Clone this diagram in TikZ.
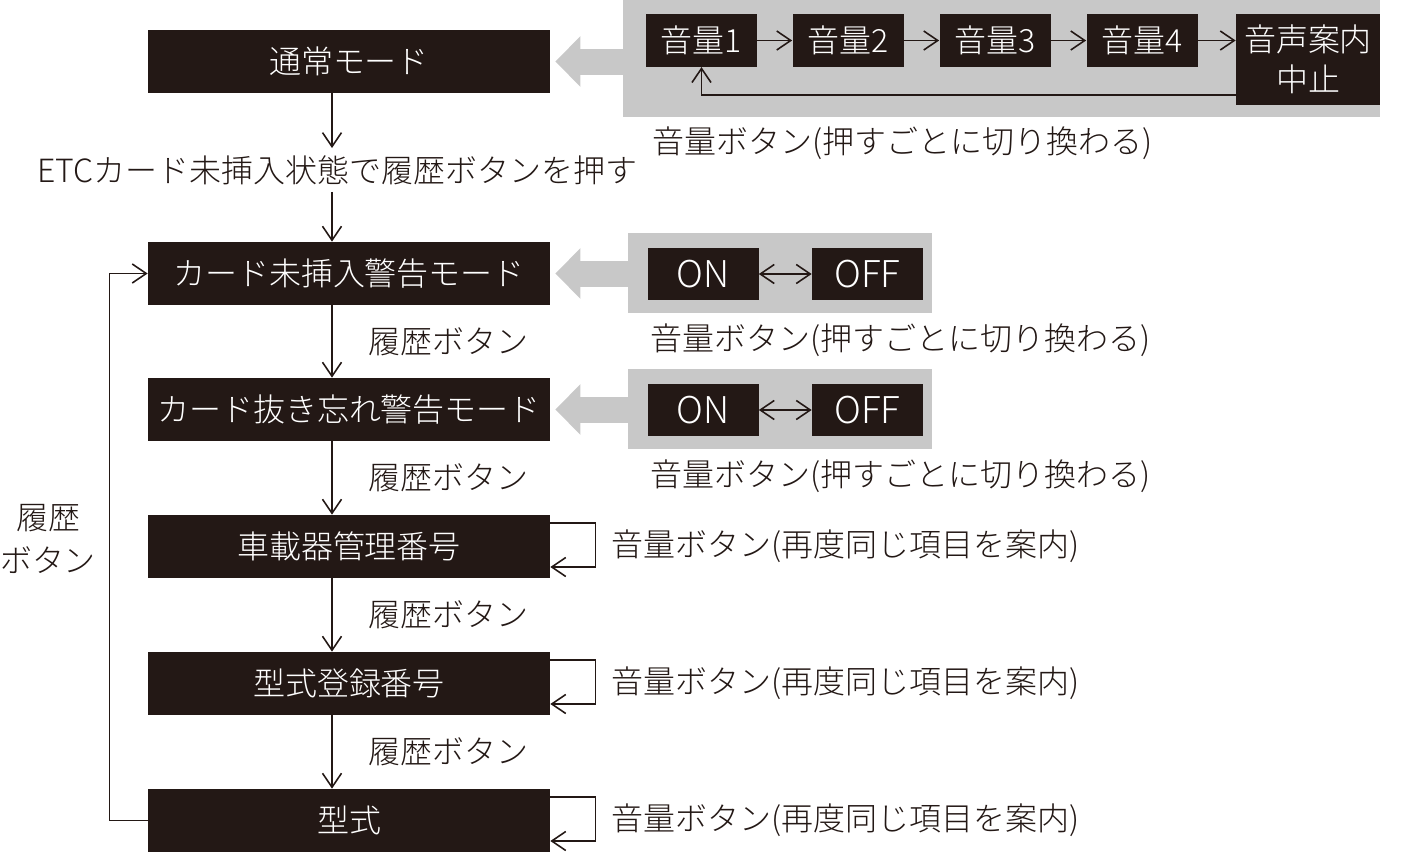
\documentclass[tikz,border=0pt]{standalone}
\usepackage{fontspec}
\setmainfont{Noto Sans CJK JP}[UprightFont=* Light]
\usetikzlibrary{arrows.meta,positioning}
\definecolor{inkblack}{HTML}{231815}
\definecolor{panelgray}{HTML}{C8C8C8}

\begin{document}
\begin{tikzpicture}[font=\fontsize{18.2}{23}\selectfont,
		modebox/.style={fill=inkblack,text=white,minimum width=8.04cm,minimum height=1.26cm,inner sep=0pt},
		smallbox/.style={fill=inkblack,text=white,minimum width=2.22cm,minimum height=1.05cm,inner sep=0pt},
		panel/.style={fill=panelgray,inner sep=0pt},
		note/.style={text=inkblack,inner sep=0pt},
		hist/.style={note,right=0.72cm},
		grayarrow/.style={panelgray,line width=0.52cm,-{Triangle[length=0.5cm,width=0.98cm]}}]
		\useasboundingbox (0,0) rectangle (28.02,-17.06);

		\begin{scope}[every node/.style={modebox}]
			\node (normal) at (6.98,-1.23) {通常モード};
			\node (nocard) at (6.98,-5.47) {カード未挿入警告モード};
			\node (forget) at (6.98,-8.19) {カード抜き忘れ警告モード};
			\node (serial) at (6.98,-10.93) {車載器管理番号};
			\node (regno) at (6.98,-13.67) {型式登録番号};
			\node (model) at (6.98,-16.41) {型式};
		\end{scope}

		\node[note,inner sep=4pt] (etc) at (6.74,-3.40) {ETCカード未挿入状態で履歴ボタンを押す};
		\node[note,align=center,font=\fontsize{18.2}{24}\selectfont] (histlbl) at (0.96,-10.78) {履歴\\ボタン};
		\coordinate (ax) at (6.64,0);

		% gray panels
		\node[panel,minimum width=15.14cm,minimum height=2.34cm] (volpanel) at (20.03,-1.17) {};
		\node[panel,minimum width=6.08cm,minimum height=1.60cm] (panelA) at (15.60,-5.46) {};
		\node[panel,minimum width=6.08cm,minimum height=1.60cm] (panelB) at (15.60,-8.18) {};

		\begin{scope}[every node/.style={smallbox}]
			\node (vol1) at (14.03,-0.81) {音量1};
			\node (vol2) at (16.96,-0.81) {音量2};
			\node (vol3) at (19.90,-0.81) {音量3};
			\node (vol4) at (22.84,-0.81) {音量4};
			\node[minimum width=2.88cm,minimum height=1.82cm,align=center] (stop) at (26.16,-1.19) {音声案内\\中止};

			\node[font=\fontsize{21}{25}\selectfont] (onA) at (14.06,-5.48) {ON};
			\node[font=\fontsize{21}{25}\selectfont] (offA) at (17.35,-5.48) {OFF};
			\node[font=\fontsize{21}{25}\selectfont] (onB) at (14.06,-8.20) {ON};
			\node[font=\fontsize{21}{25}\selectfont] (offB) at (17.35,-8.20) {OFF};
		\end{scope}

		\begin{scope}[every node/.style={note}]
			\node[anchor=west] (volnote) at (13.04,-2.86) {音量ボタン(押すごとに切り換わる)};
			\node[anchor=west] (notea) at (13.00,-6.80) {音量ボタン(押すごとに切り換わる)};
			\node[anchor=west] (noteb) at (13.00,-9.52) {音量ボタン(押すごとに切り換わる)};
			\node[right=1.22cm of serial] (repa) {音量ボタン(再度同じ項目を案内)};
			\node[right=1.22cm of regno] (repb) {音量ボタン(再度同じ項目を案内)};
			\node[right=1.22cm of model] (repc) {音量ボタン(再度同じ項目を案内)};
		\end{scope}

		\draw[grayarrow] (volpanel.west |- normal) -- ([xshift=0.1cm]normal.east);
		\draw[grayarrow] (panelA.west |- nocard) -- ([xshift=0.1cm]nocard.east);
		\draw[grayarrow] (panelB.west |- forget) -- ([xshift=0.1cm]forget.east);

		\begin{scope}[>={Straight Barb[length=0.28cm,width=0.38cm]},
					  every edge/.style={draw=inkblack,line width=0.9pt}]
			\path [->] (normal.south -| ax) edge (etc.north -| ax);
			\path [->] (etc.south -| ax) edge (nocard.north -| ax);
			\path [->] (nocard.south -| ax) edge node[hist] {履歴ボタン} (forget.north -| ax);
			\path [->] (forget.south -| ax) edge node[hist] {履歴ボタン} (serial.north -| ax);
			\path [->] (serial.south -| ax) edge node[hist] {履歴ボタン} (regno.north -| ax);
			\path [->] (regno.south -| ax) edge node[hist] {履歴ボタン} (model.north -| ax);

			\path [->] (vol1) edge (vol2);
			\path [->] (vol2) edge (vol3);
			\path [->] (vol3) edge (vol4);
			\path [->] (vol4.east) edge (vol4 -| stop.west);
			\path [<->] (onA) edge (offA);
			\path [<->] (onB) edge (offB);
		\end{scope}

		\begin{scope}[>={Straight Barb[length=0.28cm,width=0.38cm]},draw=inkblack,line width=0.9pt]
			\draw[->] ([yshift=-0.71cm]stop.west) -| (vol1.south);
			\draw[->] (model.west) -- ++(-0.76,0) |- (nocard.west);
			\draw[->] ([yshift=0.47cm]serial.east) -- ++(0.9,0) |- ([yshift=-0.41cm]serial.east);
			\draw[->] ([yshift=0.47cm]regno.east) -- ++(0.9,0) |- ([yshift=-0.41cm]regno.east);
			\draw[->] ([yshift=0.47cm]model.east) -- ++(0.9,0) |- ([yshift=-0.41cm]model.east);
		\end{scope}
\end{tikzpicture}
\end{document}
